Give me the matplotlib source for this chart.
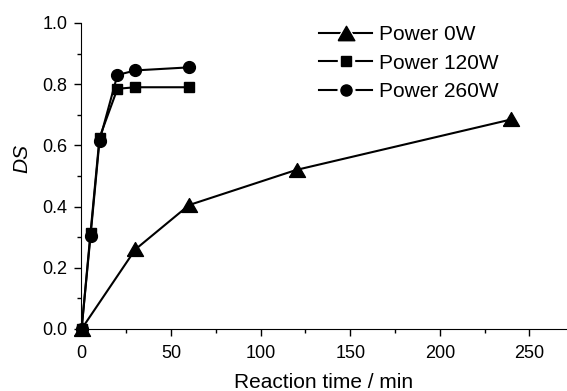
import matplotlib
matplotlib.use("Agg")
from matplotlib import pyplot as plt
from matplotlib.lines import Line2D
from matplotlib.ticker import MultipleLocator, FormatStrFormatter

plt.rcParams['font.family'] = ['Liberation Sans', 'DejaVu Sans']

# data
t_0w = [0, 30, 60, 120, 240]
ds_0w = [0.0, 0.26, 0.405, 0.52, 0.685]

t_120w = [0, 5, 10, 20, 30, 60]
ds_120w = [0.0, 0.315, 0.625, 0.785, 0.79, 0.79]

t_260w = [0, 5, 10, 20, 30, 60]
ds_260w = [0.0, 0.305, 0.615, 0.83, 0.845, 0.855]

labels = ['Power 0W', 'Power 120W', 'Power 260W']

# equilateral triangle (Origin style), square, circle
tri = [(-1, -0.866), (1, -0.866), (0, 0.866), (-1, -0.866)]
markers = [tri, 's', 'o']
sizes = [11.5, 7.5, 8.5]
leg_sizes = [12, 7.5, 8]

fig = plt.figure(figsize=(5.67, 3.91), dpi=100)
ax = fig.add_axes([0.142, 0.1586, 0.858, 0.7826])

for t, ds, m, s in zip([t_0w, t_120w, t_260w], [ds_0w, ds_120w, ds_260w], markers, sizes):
    ax.plot(t, ds, '-k', marker=m, ms=s, lw=1.5, clip_on=False)

ax.set_xlim(-0.6, 271)
ax.set_ylim(0, 1.0)
ax.xaxis.set_major_locator(MultipleLocator(50))
ax.xaxis.set_minor_locator(MultipleLocator(25))
ax.yaxis.set_major_locator(MultipleLocator(0.2))
ax.yaxis.set_minor_locator(MultipleLocator(0.1))
ax.yaxis.set_major_formatter(FormatStrFormatter('%.1f'))
ax.tick_params(which='both', direction='out', labelsize=13, width=1)
ax.tick_params(which='major', length=5)
ax.tick_params(which='minor', length=3)
ax.tick_params(axis='y', which='both', pad=4.5)
ax.tick_params(axis='x', which='both', pad=6.5)
for s in ['top', 'right']:
    ax.spines[s].set_visible(False)

ax.set_xlabel('Reaction time / min', fontsize=15)
ax.set_ylabel('DS', fontsize=15, style='italic')
ax.xaxis.set_label_coords(0.5, -0.145)
ax.yaxis.set_label_coords(-0.102, 0.556)

# legend handles: line, white halo marker, black marker stacked
handles = []
for m, s in zip(markers, leg_sizes):
    ln = Line2D([], [], color='k', lw=1.5)
    halo = Line2D([], [], ls='none', marker=m, ms=s + 4, color='white')
    mk = Line2D([], [], ls='none', marker=m, ms=s, color='k')
    handles.append((ln, halo, mk))
fig.legend(handles, labels, loc='upper left', bbox_to_anchor=(0.5626, 0.936),
           frameon=False, fontsize=15, handlelength=2.55, labelspacing=0.46,
           handletextpad=0.34, borderpad=0, borderaxespad=0)

fig.savefig('out.png', dpi=100)
